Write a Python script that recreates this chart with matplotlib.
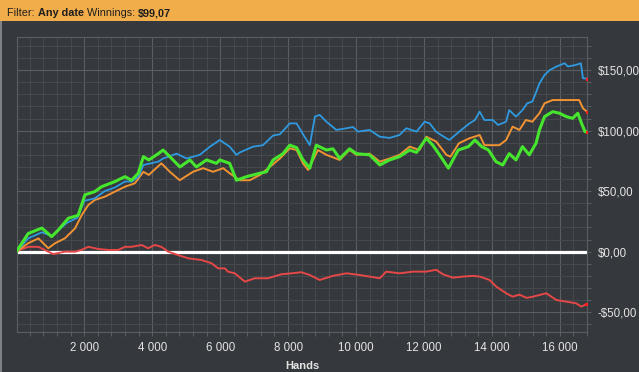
#!/usr/bin/env python3

import numpy as np
import matplotlib
matplotlib.use("Agg")
import matplotlib.pyplot as plt
from matplotlib.ticker import MultipleLocator, FuncFormatter
from matplotlib.patches import Rectangle

# --- data (hands, dollars) ---
blue_hands = [0, 350, 750, 1040, 1500, 1800, 2000, 2310, 2600, 2900, 3200, 3400, 3600,
              3740, 4180, 4320, 4720, 5010, 5400, 5700, 5990, 6280, 6480, 6580, 6970,
              7260, 7560, 7760, 8050, 8250, 8440, 8640, 8790, 8930, 9130, 9420, 9720,
              9910, 10060, 10400, 10700, 10990, 11280, 11480, 11780, 12020, 12170, 12360,
              12660, 12750, 13040, 13340, 13500, 13640, 13780, 14030, 14180, 14420, 14510,
              14710, 14900, 15040, 15190, 15290, 15400, 15550, 15700, 15900, 16140, 16240,
              16470, 16620, 16680, 16800]
blue_vals = [0, 11, 16, 13, 24, 28, 42, 44, 50, 53, 58, 57.9, 62,
             71.6, 74.4, 77, 81, 77, 80, 86.8, 92.3, 86.8, 80, 82, 86.8,
             88, 96, 97, 106, 106, 97, 88, 111.6, 113, 107.4, 100.6, 102,
             103, 99.2, 100.6, 95, 94, 96.4, 102, 99.2, 107.4, 106, 99,
             93.7, 92.3, 99.2, 106, 108.8, 115.7, 108.8, 108.8, 104.7, 107.4, 117,
             111.6, 117, 122.6, 124, 130.9, 139, 146, 150, 153, 155.7, 153,
             154.3, 155.7, 143.3, 143]

orange_hands = [0, 200, 350, 650, 940, 1140, 1430, 1730, 1920, 2120, 2310, 2610, 2900,
                3200, 3490, 3740, 3900, 4270, 4520, 4810, 5200, 5500, 5790, 6090, 6280,
                6580, 6870, 7170, 7460, 7760, 8050, 8250, 8440, 8590, 8880, 9130, 9520,
                9810, 10010, 10400, 10700, 10990, 11280, 11580, 11870, 12070, 12360, 12660,
                12780, 13030, 13340, 13640, 13780, 14030, 14220, 14420, 14610, 14810, 15000,
                15190, 15400, 15550, 15790, 16090, 16380, 16570, 16680, 16800]
orange_vals = [0, 4, 7, 11, 2.8, 7, 11, 19.3, 30, 38.6, 42.7, 45.5, 49.6,
               53.7, 56.5, 66, 63.4, 73, 66, 59, 66, 69, 66, 69, 64.8,
               59, 59, 63.4, 70, 77, 85.4, 84, 73, 67.5, 84, 80, 75.8,
               84, 80, 81, 74.4, 77, 80, 86.8, 84, 95, 91, 80,
               78.5, 89.6, 93.7, 96.4, 88, 88, 88, 92.3, 103.3, 100.6, 108.8,
               107.4, 114.4, 122.6, 125.3, 125.3, 125.3, 125.3, 118.5, 115.7]

green_hands = [0, 350, 750, 1040, 1240, 1530, 1820, 2020, 2310, 2510, 2900, 3200, 3390,
               3590, 3740, 3900, 4180, 4320, 4520, 4815, 5110, 5300, 5600, 5890, 5990,
               6280, 6480, 6780, 7170, 7360, 7560, 7850, 8050, 8250, 8440, 8640, 8830,
               9130, 9320, 9520, 9810, 10010, 10400, 10700, 10990, 11280, 11580, 11780,
               12070, 12260, 12460, 12720, 13010, 13310, 13500, 13700, 13900, 14120, 14320,
               14510, 14710, 14900, 15100, 15300, 15400, 15550, 15790, 15990, 16190, 16380,
               16530, 16640, 16740, 16800]
green_vals = [0, 15, 19.5, 12.4, 18, 27.6, 30, 47, 49.6, 53.7, 57.9, 62, 59,
              64.8, 78.5, 75.8, 81, 84, 78.5, 70, 75.8, 70, 75.8, 73, 75.8,
              73, 59, 62, 64.8, 66, 75.8, 81, 88, 86, 75.8, 69, 88,
              84, 85, 77, 85, 81, 80, 71.6, 75.8, 78.5, 84, 82,
              93.7, 88, 80, 69, 84, 86.8, 92.3, 86.8, 84, 74.4, 71.6,
              81, 75.8, 86.8, 80, 89.6, 100.6, 111.6, 115.7, 114.4, 111.6, 110.2,
              114.4, 106, 99.2, 99.07]

red_hands = [0, 100, 350, 650, 940, 1090, 1430, 1730, 1920, 2120, 2410, 2710, 3000,
             3200, 3390, 3690, 3880, 4080, 4270, 4470, 4760, 5060, 5450, 5750, 5940,
             6140, 6230, 6430, 6730, 7020, 7410, 7800, 8100, 8390, 8640, 8930, 9320,
             9720, 10110, 10400, 10700, 10890, 11280, 11680, 12070, 12360, 12560, 12850,
             13150, 13440, 13640, 13930, 14130, 14420, 14610, 14810, 15020, 15210, 15600,
             15900, 16190, 16480, 16630, 16780]
red_vals = [0, 1.4, 4, 4, 0, -2, 0, 0, 1.5, 4, 2.2, 1.4, 1.4,
            4, 4, 5.5, 2.8, 5.5, 4, 0, -2.8, -5.5, -6.9, -9.6, -13.8,
            -13.8, -16.5, -17.9, -24.8, -22, -22, -18.7, -17.9, -17, -19.3, -23.4, -20,
            -17.9, -19.3, -20.6, -22, -16.5, -17.9, -16.5, -16.5, -15, -18.7, -21.5,
            -20.6, -20, -20.6, -23.4, -28.9, -34.4, -37.2, -35.5, -38.2, -37.2, -34.4,
            -40, -41.3, -42.7, -45.4, -43.6]

header_parts = [("Filter: ", "normal"), ("Any date", "bold"),
                (" Winnings: ", "normal"), ("$99,07", "bold")]

BG = "#35383c"
GRID_MAJOR = "#5a5d61"
GRID_MINOR = "#45484c"
FONT = "Liberation Sans"


def money(v, _pos=None):
    s = f"{abs(v):.2f}".replace(".", ",")
    return ("-$" if v < 0 else "$") + s


def hands(v, _pos=None):
    if v <= 0:
        return ""
    return f"{int(v):,}".replace(",", " ")


def main():
    W, H = 639, 372
    fig = plt.figure(figsize=(W / 100, H / 100), dpi=100, facecolor=BG)

    # orange filter bar at the top
    fig.patches.append(Rectangle((0, 1 - 21 / H), 1, 21 / H, transform=fig.transFigure,
                                 facecolor="#f2ad4b", edgecolor="none", zorder=0))
    fig.patches.append(Rectangle((0, 0), 1.5 / W, 1 - 21 / H, transform=fig.transFigure,
                                 facecolor="#7d8288", edgecolor="none", zorder=0))

    left, right, top, bottom = 17, 587, 37, 332
    ax = fig.add_axes([left / W, 1 - bottom / H, (right - left) / W, (bottom - top) / H])
    ax.set_facecolor(BG)

    ax.axhline(0, color="white", lw=2.3, zorder=2)
    ax.plot(red_hands, red_vals, color="#e64848", lw=1.4, zorder=3)
    ax.plot(orange_hands, orange_vals, color="#f29333", lw=1.4, zorder=4)
    ax.plot(blue_hands, blue_vals, color="#2f9ae0", lw=1.3, zorder=4)
    ax.plot(green_hands, green_vals, color="#46e62e", lw=2.2, zorder=5)
    for hs, vs in [(red_hands, red_vals), (orange_hands, orange_vals),
                   (blue_hands, blue_vals), (green_hands, green_vals)]:
        ax.plot(hs[-1:], vs[-1:], "s", color="#ff2020", ms=1.3, zorder=6)

    ax.set_xlim(20, 16800)
    ax.set_ylim(-66.4, 177.4)

    ax.xaxis.set_major_locator(MultipleLocator(2000))
    ax.xaxis.set_minor_locator(MultipleLocator(400))
    ax.yaxis.set_major_locator(MultipleLocator(50))
    ax.yaxis.set_minor_locator(MultipleLocator(10))
    ax.xaxis.set_major_formatter(FuncFormatter(hands))
    ax.yaxis.set_major_formatter(FuncFormatter(money))
    ax.yaxis.tick_right()

    ax.grid(which="major", color=GRID_MAJOR, lw=0.8, zorder=0)
    ax.grid(which="minor", color=GRID_MINOR, lw=0.8, zorder=0)
    ax.set_axisbelow(True)
    for sp in ax.spines.values():
        sp.set_color(GRID_MAJOR)
        sp.set_linewidth(0.8)

    ax.tick_params(which="both", direction="out", length=3, width=0.75,
                   color=GRID_MAJOR, labelcolor="#e4e4e4", labelsize=8.3)
    ax.tick_params(axis="x", pad=4)
    ax.tick_params(axis="y", pad=4.5)
    for lab in ax.get_xticklabels() + ax.get_yticklabels():
        lab.set_fontfamily(FONT)

    fig.text((left + right) / 2 / W, 1 - 361 / H, "Hands", ha="center", va="top",
             color="#e4e4e4", fontsize=8, fontweight="bold", family=FONT)

    # header text, pieces laid out side by side on a shared baseline
    fig.canvas.draw()
    renderer = fig.canvas.get_renderer()
    x = 7 / W
    for txt, weight in header_parts:
        t = fig.text(x, 1 - 16.5 / H, txt, ha="left", va="baseline", color="#1e1e1e",
                     fontsize=7.8, fontweight=weight, family=FONT)
        bb = t.get_window_extent(renderer)
        x += bb.width / W

    fig.savefig("out.png", dpi=100, facecolor=BG)


if __name__ == "__main__":
    main()
